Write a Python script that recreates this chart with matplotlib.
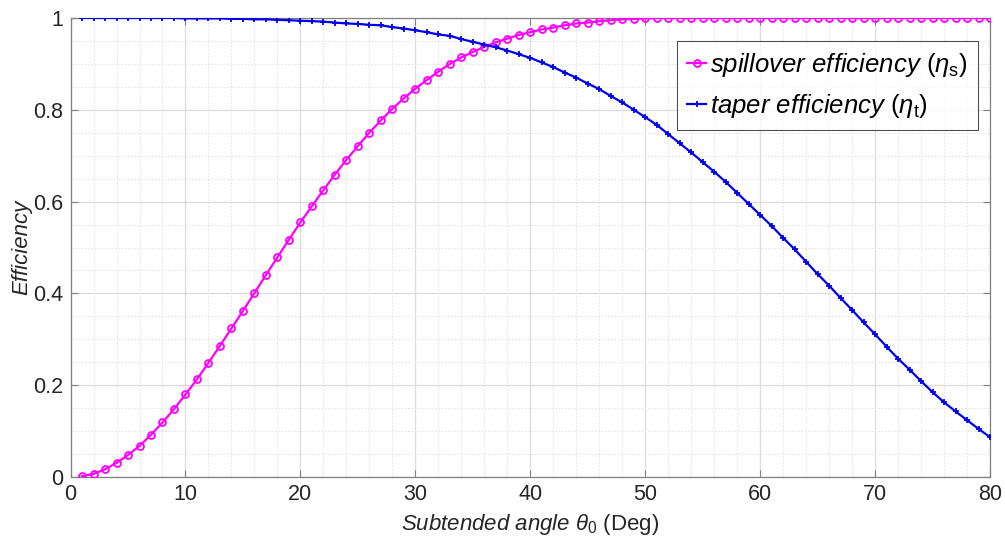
import matplotlib
matplotlib.use("Agg")
import matplotlib.pyplot as plt
from matplotlib.ticker import MultipleLocator

theta = list(range(1, 81))

spillover = [0.002, 0.007, 0.017, 0.031, 0.048, 0.068, 0.092, 0.119, 0.148, 0.180,
             0.213, 0.249, 0.286, 0.324, 0.362, 0.401, 0.440, 0.479, 0.517, 0.555,
             0.590, 0.625, 0.659, 0.691, 0.721, 0.750, 0.777, 0.802, 0.825, 0.846,
             0.865, 0.883, 0.900, 0.914, 0.926, 0.937, 0.947, 0.955, 0.963, 0.969,
             0.975, 0.979, 0.984, 0.988, 0.990, 0.993, 0.995, 0.997, 0.998, 0.999,
             1.000, 1.000, 1.000, 1.000, 1.000, 1.000, 1.000, 1.000, 1.000, 1.000,
             1.000, 1.000, 1.000, 1.000, 1.000, 1.000, 1.000, 1.000, 1.000, 1.000,
             1.000, 1.000, 1.000, 1.000, 1.000, 1.000, 1.000, 1.000, 1.000, 1.000]

taper = [1.000, 1.000, 1.000, 1.000, 1.000, 1.000, 1.000, 1.000, 1.000, 0.999,
         0.999, 0.999, 0.999, 0.998, 0.998, 0.997, 0.997, 0.996, 0.995, 0.994,
         0.993, 0.992, 0.990, 0.988, 0.987, 0.985, 0.984, 0.980, 0.977, 0.973,
         0.969, 0.964, 0.961, 0.954, 0.948, 0.942, 0.936, 0.929, 0.921, 0.913,
         0.903, 0.893, 0.881, 0.870, 0.857, 0.845, 0.830, 0.816, 0.800, 0.784,
         0.767, 0.747, 0.727, 0.707, 0.686, 0.665, 0.643, 0.619, 0.595, 0.571,
         0.547, 0.521, 0.496, 0.469, 0.442, 0.417, 0.390, 0.364, 0.337, 0.311,
         0.284, 0.258, 0.234, 0.209, 0.185, 0.163, 0.143, 0.124, 0.105, 0.087]

x_ticks = [0, 10, 20, 30, 40, 50, 60, 70, 80]
y_ticks = [0, 0.2, 0.4, 0.6, 0.8, 1.0]
y_tick_labels = ["0", "0.2", "0.4", "0.6", "0.8", "1"]

plt.rcParams['font.family'] = ['Liberation Sans', 'DejaVu Sans']
plt.rcParams['mathtext.fontset'] = 'custom'
plt.rcParams['mathtext.rm'] = 'Liberation Sans'
plt.rcParams['mathtext.it'] = 'Liberation Sans:italic'
plt.rcParams['mathtext.bf'] = 'Liberation Sans:bold'

fig = plt.figure(figsize=(10.05, 5.44), dpi=100)
ax = fig.add_axes([0.0702, 0.123, 0.9149, 0.844])

ax.plot(theta, spillover, color='#FF00FF', lw=1.6, marker='o', markersize=5,
        markerfacecolor='none', markeredgecolor='#FF00FF', markeredgewidth=1.3,
        label=r'$\mathit{spillover\ efficiency}\ (\eta_{\mathrm{s}})$', zorder=3)
ax.plot(theta, taper, color='#0000EE', lw=1.6, marker='+', markersize=5,
        markeredgewidth=1.3,
        label=r'$\mathit{taper\ efficiency}\ (\eta_{\mathrm{t}})$', zorder=3)

ax.set_xlim(0, 80)
ax.set_ylim(0, 1)
ax.set_xticks(x_ticks)
ax.set_yticks(y_ticks)
ax.set_yticklabels(y_tick_labels)
ax.xaxis.set_minor_locator(MultipleLocator(2))
ax.yaxis.set_minor_locator(MultipleLocator(0.05))

ax.grid(which='major', color='#dcdcdc', lw=0.9, ls='-')
ax.grid(which='minor', color='#e6e6e6', lw=0.8, ls=(0, (1.5, 1.5)))
ax.set_axisbelow(True)

ax.tick_params(which='major', direction='in', length=5, width=0.8, color='#808080',
               top=True, right=True, labelsize=15.5, pad=5, labelcolor='#262626')
ax.tick_params(which='minor', length=0, top=True, right=True)
for s in ax.spines.values():
    s.set_color('#808080')
    s.set_linewidth(0.9)

ax.set_xlabel(r'$\mathit{Subtended\ angle\ \theta_{0}}$ (Deg)', fontsize=16, color='#262626', labelpad=5)
ax.set_ylabel('Efficiency', fontsize=16, fontstyle='italic', color='#262626', labelpad=1)

leg = ax.legend(loc='upper right', bbox_to_anchor=(0.987, 0.950), fontsize=18.5,
                frameon=True, fancybox=False, borderpad=0.4, handlelength=0.75,
                handletextpad=0.15, labelspacing=0.5, borderaxespad=0.0)
leg.get_frame().set_edgecolor('#262626')
leg.get_frame().set_linewidth(0.8)

fig.savefig('out.png', dpi=100)
